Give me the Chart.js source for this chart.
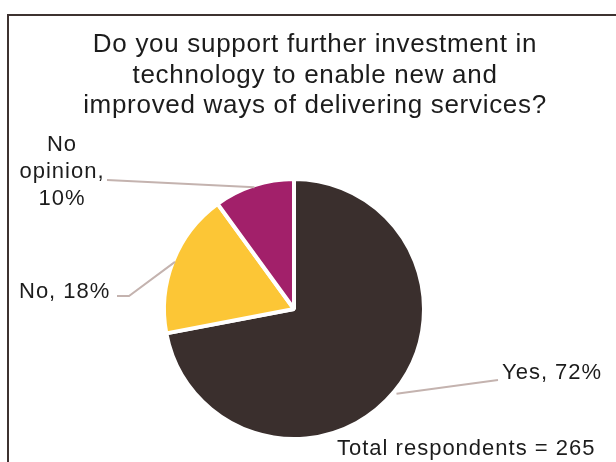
<!DOCTYPE html>
<html>
<head>
<meta charset="utf-8">
<script src="https://cdn.jsdelivr.net/npm/chart.js@4/dist/chart.umd.min.js"></script>
<style>
  body { margin: 0; background: #fff; }
  canvas { display: block; }
</style>
</head>
<body>
<canvas id="surveyChart" width="616" height="462"></canvas>
<script>
const titleLines = [
    "Do you support further investment in",
    "technology to enable new and",
    "improved ways of delivering services?"
];
const categories = ["Yes", "No", "No opinion"];
const shares = [72, 18, 10];
const sliceColors = ["#3a2f2d", "#fcc636", "#a2206a"];
const totalRespondents = 265;

// where each slice label sits and how its leader line bends
const labelLayout = [
    { x: 502, y: 379, align: "left", gap: 5, path: [[498, 380]] },
    { x: 19, y: 298, align: "left", gap: 0, path: [[129, 296], [117, 296]] },
    { x: 62, y: 151, align: "center", gap: 0, wrap: true, lineGap: 27, path: [[107, 180]] }
];

const FONT = '"Liberation Sans", Arial, sans-serif';
const TEXT_COLOR = "#1c1c1c";

function drawText(ctx, text, x, y, size, align) {
    ctx.font = size + "px " + FONT;
    ctx.fillStyle = TEXT_COLOR;
    ctx.textAlign = align;
    ctx.textBaseline = "alphabetic";
    ctx.fillText(text, x, y);
}

const frameAndLabels = {
    id: "frameAndLabels",
    beforeDraw(chart) {
        const ctx = chart.ctx;
        ctx.save();
        ctx.strokeStyle = "#3d3230";
        ctx.lineWidth = 2;
        ctx.strokeRect(8, 15, 700, 600);
        ctx.restore();
    },
    afterDatasetsDraw(chart) {
        const ctx = chart.ctx;
        const arcs = chart.getDatasetMeta(0).data;
        ctx.save();
        if ("letterSpacing" in ctx) ctx.letterSpacing = "0.7px";
        titleLines.forEach((line, i) => drawText(ctx, line, 315, 52 + i * 30.5, 26, "center"));

        if ("letterSpacing" in ctx) ctx.letterSpacing = "1px";
        arcs.forEach((arc, i) => {
            const p = arc.getProps(["x", "y", "startAngle", "endAngle", "outerRadius"], true);
            const mid = (p.startAngle + p.endAngle) / 2;
            const r = p.outerRadius - 2 + labelLayout[i].gap;
            const lay = labelLayout[i];

            ctx.beginPath();
            ctx.moveTo(p.x + Math.cos(mid) * r, p.y + Math.sin(mid) * r);
            lay.path.forEach(pt => ctx.lineTo(pt[0], pt[1]));
            ctx.strokeStyle = "#c4b3af";
            ctx.lineWidth = 2;
            ctx.stroke();

            const label = categories[i] + ", " + shares[i] + "%";
            const lines = lay.wrap ? label.split(" ") : [label];
            lines.forEach((line, j) => drawText(ctx, line, lay.x, lay.y + j * (lay.lineGap || 0), 22, lay.align));
        });

        drawText(ctx, "Total respondents = " + totalRespondents, 337, 455, 22, "left");
        ctx.restore();
    }
};

new Chart(document.getElementById("surveyChart"), {
    type: "pie",
    data: {
        labels: categories,
        datasets: [{
            data: shares,
            backgroundColor: sliceColors,
            borderColor: "#ffffff",
            borderWidth: 4,
            hoverOffset: 0
        }]
    },
    options: {
        responsive: false,
        animation: false,
        radius: 130,
        layout: { padding: { left: 100, right: 128, top: 179, bottom: 23 } },
        plugins: {
            legend: { display: false },
            tooltip: { enabled: false },
            title: { display: false }
        }
    },
    plugins: [frameAndLabels]
});
</script>
</body>
</html>
